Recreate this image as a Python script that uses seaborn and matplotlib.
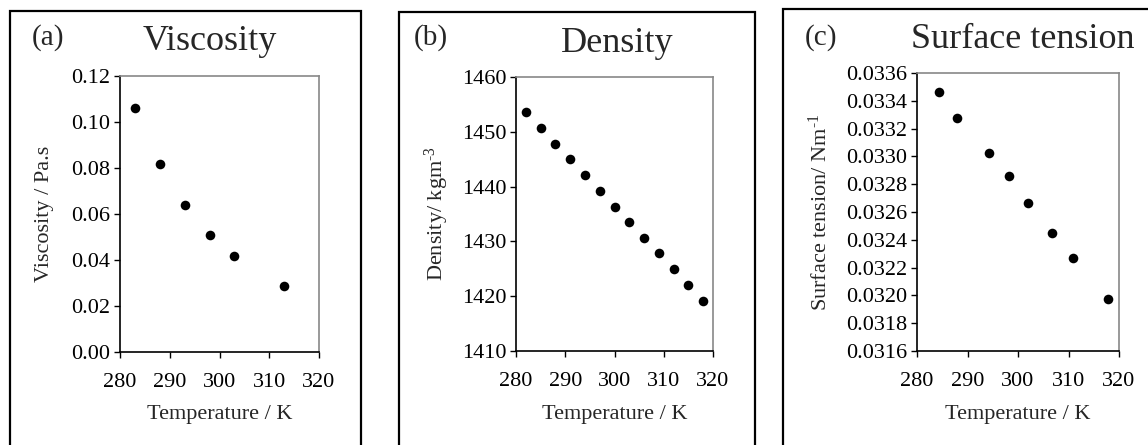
import numpy as np
import pandas as pd
import matplotlib.pyplot as plt
import seaborn as sns
from matplotlib.patches import Rectangle
from matplotlib.ticker import FormatStrFormatter

# data
visc_temp = [283, 288, 293, 298, 303, 313]
visc_vals = [0.1063, 0.0816, 0.0638, 0.0510, 0.0417, 0.0285]

dens_temp = [282, 285, 288, 291, 294, 297, 300, 303, 306, 309, 312, 315, 318]
dens_vals = [1453.6, 1450.7, 1447.8, 1445.0, 1442.1, 1439.2, 1436.3,
             1433.5, 1430.6, 1427.8, 1424.9, 1422.0, 1419.1]

st_temp = [284.3, 287.9, 294.2, 298.3, 301.9, 306.8, 310.8, 317.9]
st_vals = [0.033465, 0.033275, 0.033025, 0.032856, 0.032665,
           0.032446, 0.032266, 0.031975]

x_ticks = [280, 290, 300, 310, 320]

sns.set_theme(style="white")
plt.rcParams['font.family'] = ['Liberation Serif', 'DejaVu Serif']
plt.rcParams['mathtext.fontset'] = 'custom'
plt.rcParams['mathtext.rm'] = 'Liberation Serif'
plt.rcParams['mathtext.it'] = 'Liberation Serif'

fig = plt.figure(figsize=(11.48, 4.45), dpi=100)
W, H = 1148, 445


def px_axes(l, r, t, b):
    return fig.add_axes([l / W, 1 - b / H, (r - l) / W, (b - t) / H])


panels = [
    dict(rect=(120, 319, 76, 352), x=visc_temp, y=visc_vals, ylim=(0, 0.12),
         yticks=np.arange(0, 0.1201, 0.02), fmt='%.2f',
         ylabel='Viscosity / Pa.s', ylab_x=45,
         title='Viscosity', title_x=210, title_y=42,
         tag='(a)', tag_x=32, frame=(10, 361, 11)),
    dict(rect=(516, 713, 77, 351), x=dens_temp, y=dens_vals, ylim=(1410, 1460),
         yticks=np.arange(1410, 1461, 10), fmt='%d',
         ylabel='Density/ kgm$^{\\text{-3}}$', ylab_x=437,
         title='Density', title_x=617, title_y=43,
         tag='(b)', tag_x=414, frame=(399, 755, 12)),
    dict(rect=(917, 1119, 73, 351), x=st_temp, y=st_vals, ylim=(0.0316, 0.0336),
         yticks=np.arange(0.0316, 0.03361, 0.0002), fmt='%.4f',
         ylabel='Surface tension/ Nm$^{\\text{-1}}$', ylab_x=820,
         title='Surface tension', title_x=1023, title_y=40,
         tag='(c)', tag_x=805, frame=(783, 1200, 9)),
]

for p in panels:
    ax = px_axes(*p['rect'])
    df = pd.DataFrame({'T': p['x'], 'v': p['y']})
    sns.scatterplot(data=df, x='T', y='v', ax=ax, color='black', s=48,
                    edgecolor='black', linewidth=0, zorder=3)
    ax.set_xlim(280, 320)
    ax.set_ylim(*p['ylim'])
    ax.set_xticks(x_ticks)
    ax.set_yticks(p['yticks'])
    ax.yaxis.set_major_formatter(FormatStrFormatter(p['fmt']))
    ax.tick_params(axis='both', direction='out', length=4, width=1,
                   labelsize=16, colors='black', pad=3,
                   bottom=True, left=True)
    ax.tick_params(axis='x', pad=11)
    for side in ['left', 'bottom']:
        ax.spines[side].set_color('black')
        ax.spines[side].set_linewidth(1.2)
    for side in ['top', 'right']:
        ax.spines[side].set_color('#888888')
        ax.spines[side].set_linewidth(1.2)
    ax.set_xlabel('')
    ax.set_ylabel('')

    # labels in figure pixel coords
    l, r, t, b = p['rect']
    fig.text(p['ylab_x'] / W, 1 - (t + b) / 2 / H, p['ylabel'], rotation=90,
             ha='center', va='center', fontsize=16)
    fig.text((l + r) / 2 / W, 1 - 415 / H, 'Temperature / K',
             ha='center', va='center', fontsize=16)
    fig.text(p['title_x'] / W, 1 - p['title_y'] / H, p['title'],
             ha='center', va='center', fontsize=26)
    fig.text(p['tag_x'] / W, 1 - 38 / H, p['tag'], ha='left', va='center',
             fontsize=21)

    fl, fr, ft = p['frame']
    fig.patches.append(Rectangle((fl / W, -0.1), (fr - fl) / W, 1 - ft / H + 0.1,
                                 transform=fig.transFigure, fill=False,
                                 edgecolor='black', linewidth=1.6))

fig.savefig('out.png', dpi=100)
